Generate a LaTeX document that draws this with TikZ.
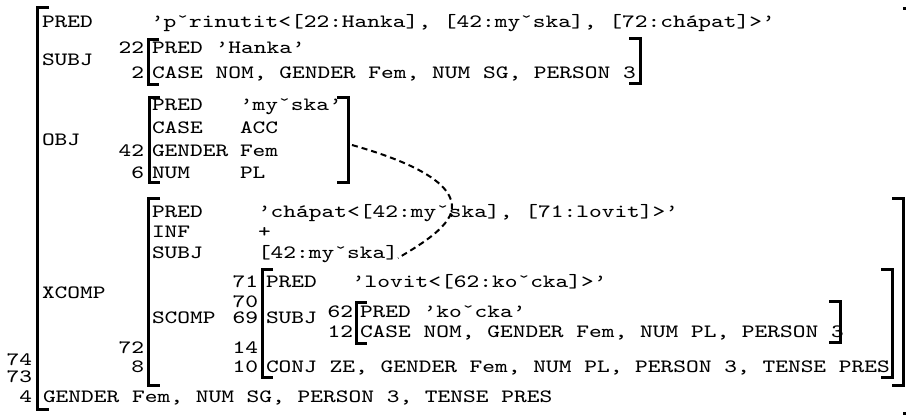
\documentclass[tikz,border=0pt]{standalone}
\usepackage{fontspec}
\newfontfamily\avm{Latin Modern Mono}[FakeStretch=1.29]
\begin{document}
\begin{tikzpicture}[x=0.5pt,y=-0.5pt,
  txt/.style={inner sep=0pt,outer sep=0pt,anchor=base west,font=\avm\fontsize{9.4}{11}\selectfont},
  num/.style={txt,anchor=base east},
  brk/.style={line width=1.5pt,line cap=butt,line join=miter},
  link/.style={line width=1pt,dash pattern=on 3pt off 2pt}]
\fill[white] (0,0) rectangle (906,418);
\useasboundingbox (0,0) rectangle (906,418);
% outer f-structure
\draw[brk] (49,7) -- (37,7) -- (37,409) -- (49,409);
\draw[brk] (903,8) -- (915,8) -- (915,413) -- (903,413);
\node[txt] (pred0) at (42,27) {PRED};
\node[txt] (pred0v) at (151,27) {’pˇrinutit<[22:Hanka], [42:myˇska], [72:chápat]>’};
\node[txt] (subj0) at (42,65) {SUBJ};
\node[txt] (obj0) at (42,145) {OBJ};
\node[txt] (xcomp0) at (42,298) {XCOMP};
\node[num] (n74) at (32,365) {74};
\node[num] (n73) at (32,382) {73};
\node[num] (n4) at (32,402) {4};
\node[txt] (feat0) at (43,402) {GENDER Fem, NUM SG, PERSON 3, TENSE PRES};
% SUBJ Hanka
\draw[brk] (159,39) -- (148,39) -- (148,84) -- (159,84);
\draw[brk] (629,38) -- (640,38) -- (640,83) -- (629,83);
\node[num] (n22) at (144,53) {22};
\node[txt] (hpred) at (152,53) {PRED ’Hanka’};
\node[num] (n2) at (144,78) {2};
\node[txt] (hcase) at (152,78) {CASE NOM, GENDER Fem, NUM SG, PERSON 3};
% OBJ mysska
\draw[brk] (160,97) -- (149,97) -- (149,182) -- (160,182);
\draw[brk] (337,97) -- (348,97) -- (348,182) -- (337,182);
\coordinate (objR) at (352,145);
\node[txt] (mpred) at (152,110) {PRED};
\node[txt] (mpredv) at (240,110) {’myˇska’};
\node[txt] (mcase) at (152,133) {CASE};
\node[txt] (mcasev) at (240,133) {ACC};
\node[num] (n42) at (144,156) {42};
\node[txt] (mgen) at (152,156) {GENDER};
\node[txt] (mgenv) at (240,156) {Fem};
\node[num] (n6) at (144,178) {6};
\node[txt] (mnum) at (152,178) {NUM};
\node[txt] (mnumv) at (240,178) {PL};
% XCOMP chapat
\draw[brk] (160,198) -- (148,198) -- (148,385) -- (160,385);
\draw[brk] (892,198) -- (903,198) -- (903,385) -- (892,385);
\node[txt] (cpred) at (152,217) {PRED};
\node[txt] (cpredv) at (258,217) {’chápat<[42:myˇska], [71:lovit]>’};
\node[txt] (cinf) at (152,237) {INF};
\node[txt] (cinfv) at (258,237) {+};
\node[txt] (csubj) at (152,258) {SUBJ};
\node[txt] (csubjv) at (258,258) {[42:myˇska]};
\node[txt] (cscomp) at (152,323) {SCOMP};
\node[num] (n72) at (144,353) {72};
\node[num] (n8) at (144,372) {8};
% SCOMP lovit
\draw[brk] (273,269) -- (262,269) -- (262,377) -- (273,377);
\draw[brk] (881,269) -- (892,269) -- (892,377) -- (881,377);
\node[num] (n71) at (258,287) {71};
\node[txt] (lpred) at (266,287) {PRED};
\node[txt] (lpredv) at (352,287) {’lovit<[62:koˇcka]>’};
\node[num] (n70) at (258,307) {70};
\node[num] (n69) at (258,323) {69};
\node[txt] (lsubj) at (266,323) {SUBJ};
\node[num] (n14) at (258,353) {14};
\node[num] (n10) at (258,372) {10};
\node[txt] (lconj) at (266,372) {CONJ ZE, GENDER Fem, NUM PL, PERSON 3, TENSE PRES};
% SUBJ kocka
\draw[brk] (367,302) -- (356,302) -- (356,343) -- (367,343);
\draw[brk] (829,301) -- (840,301) -- (840,342) -- (829,342);
\node[num] (n62) at (353,317) {62};
\node[txt] (kpred) at (360,317) {PRED ’koˇcka’};
\node[num] (n12) at (353,337) {12};
\node[txt] (kcase) at (360,337) {CASE NOM, GENDER Fem, NUM PL, PERSON 3};
% structure-sharing link
\draw[link] (objR) .. controls (405,160) and (450,180) .. (452,205)
  .. controls (454,225) and (420,245) .. (csubjv.base east);
\end{tikzpicture}
\end{document}
